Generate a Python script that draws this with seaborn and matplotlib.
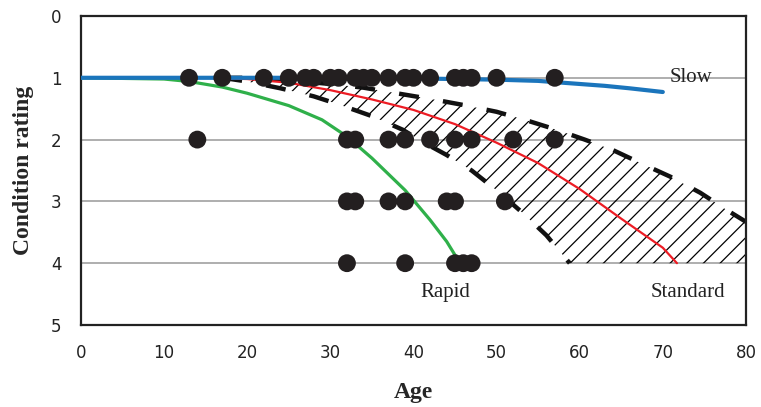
import matplotlib
matplotlib.use("Agg")
import matplotlib.pyplot as plt
import seaborn as sns
import numpy as np
import pandas as pd

# ---- data ----
row1_age = [13, 17, 22, 25, 27, 28, 30, 31, 33, 34, 35, 37, 39, 40, 42, 45, 46, 47, 50, 57]
row2_age = [14, 32, 33, 37, 39, 42, 45, 47, 52, 57]
row3_age = [32, 33, 37, 39, 44, 45, 51]
row4_age = [32, 39, 45, 46, 47]

slow_age = [0, 30, 40, 45, 50, 55, 57, 60, 63, 66, 70]
slow_cr = [1.0, 1.0, 1.01, 1.02, 1.03, 1.05, 1.07, 1.1, 1.13, 1.17, 1.23]

rapid_age = [0, 10, 13, 17, 20, 25, 29, 32, 35, 39, 42, 44, 45.6]
rapid_cr = [1.0, 1.02, 1.06, 1.15, 1.25, 1.45, 1.68, 1.95, 2.3, 2.82, 3.3, 3.65, 4.0]

std_age = [0, 15, 20, 25, 30, 35, 40, 45, 50, 55, 60, 65, 70, 71.7]
std_cr = [1.0, 1.0, 1.02, 1.08, 1.2, 1.35, 1.52, 1.75, 2.05, 2.38, 2.8, 3.28, 3.75, 4.0]

upper_age = [17, 20, 25, 30, 34, 38.4, 42.4, 46, 50, 53.4, 57.2, 60.6, 64, 67.8, 70.9, 74.5, 77.7, 80]
upper_cr = [1.0, 1.0, 1.04, 1.1, 1.16, 1.26, 1.35, 1.44, 1.55, 1.68, 1.84, 2.0, 2.17, 2.41, 2.6, 2.86, 3.14, 3.33]

lower_age = [17, 20, 24, 28, 31, 35, 38.7, 41, 44, 47, 50, 53, 56, 58.8]
lower_cr = [1.0, 1.06, 1.17, 1.3, 1.43, 1.62, 1.84, 2.03, 2.25, 2.5, 2.82, 3.17, 3.55, 4.0]

x_ticks = [0, 10, 20, 30, 40, 50, 60, 70, 80]
y_ticks = [0, 1, 2, 3, 4, 5]

# ---- figure ----
sns.set_style("white")
plt.rcParams["hatch.linewidth"] = 0.9
plt.rcParams["hatch.color"] = "black"

fig = plt.figure(figsize=(7.61, 4.07), dpi=100)
ax = fig.add_axes([0.1064, 0.2015, 0.8738, 0.7592])

# hatched band
poly_x = upper_age + [80] + lower_age[::-1]
poly_y = upper_cr + [4.0] + lower_cr[::-1]
ax.fill(poly_x, poly_y, facecolor="none", edgecolor="black", hatch="//", linewidth=0, zorder=1)

# grid lines
for yv in [1, 2, 3, 4]:
    ax.axhline(yv, color="#a8a8a8", lw=1.3, zorder=0.5)

# boundaries
sns.lineplot(x=upper_age, y=upper_cr, ax=ax, color="#111111", lw=3.2,
             linestyle=(0, (4.5, 5.5)), sort=False, estimator=None, zorder=2)
sns.lineplot(x=lower_age, y=lower_cr, ax=ax, color="#111111", lw=3.2,
             linestyle=(0, (4.5, 5.5)), sort=False, estimator=None, zorder=2)

# curves
sns.lineplot(x=std_age, y=std_cr, ax=ax, color="#ed1c24", lw=1.6, sort=False, estimator=None, zorder=3)
sns.lineplot(x=rapid_age, y=rapid_cr, ax=ax, color="#2fb04a", lw=2.3, sort=False, estimator=None, zorder=3)
sns.lineplot(x=slow_age, y=slow_cr, ax=ax, color="#1b75bc", lw=3.0, sort=False, estimator=None, zorder=3.5)

# data points
pts = pd.DataFrame({
    "age": row1_age + row2_age + row3_age + row4_age,
    "cr": [1] * len(row1_age) + [2] * len(row2_age) + [3] * len(row3_age) + [4] * len(row4_age),
})
sns.scatterplot(data=pts, x="age", y="cr", ax=ax, color="#231f20", s=165, edgecolor="none", zorder=4)

ax.set_xlim(0, 80)
ax.set_ylim(5, 0)
ax.set_xticks(x_ticks)
ax.set_yticks(y_ticks)
ax.tick_params(axis="x", direction="in", length=4, width=0.8, color="#888888", pad=14, labelsize=12)
ax.tick_params(axis="y", length=0, pad=14, labelsize=12)
for lab in ax.get_xticklabels() + ax.get_yticklabels():
    lab.set_fontfamily("DejaVu Sans")
    lab.set_color("#222222")

for sp in ax.spines.values():
    sp.set_visible(True)
    sp.set_color("#222222")
    sp.set_linewidth(1.6)

ax.set_xlabel("Age", fontsize=17, fontweight="bold", family="Liberation Serif", labelpad=14)
ax.set_ylabel("Condition rating", fontsize=17, fontweight="bold", family="Liberation Serif", labelpad=12)

ax.text(70.8, 1.0, "Slow", fontsize=15, family="Liberation Serif", ha="left", va="center", color="#222222")
ax.text(43.8, 4.48, "Rapid", fontsize=15, family="Liberation Serif", ha="center", va="center", color="#222222")
ax.text(73.0, 4.48, "Standard", fontsize=15, family="Liberation Serif", ha="center", va="center", color="#222222")

fig.savefig("out.png", dpi=100)
